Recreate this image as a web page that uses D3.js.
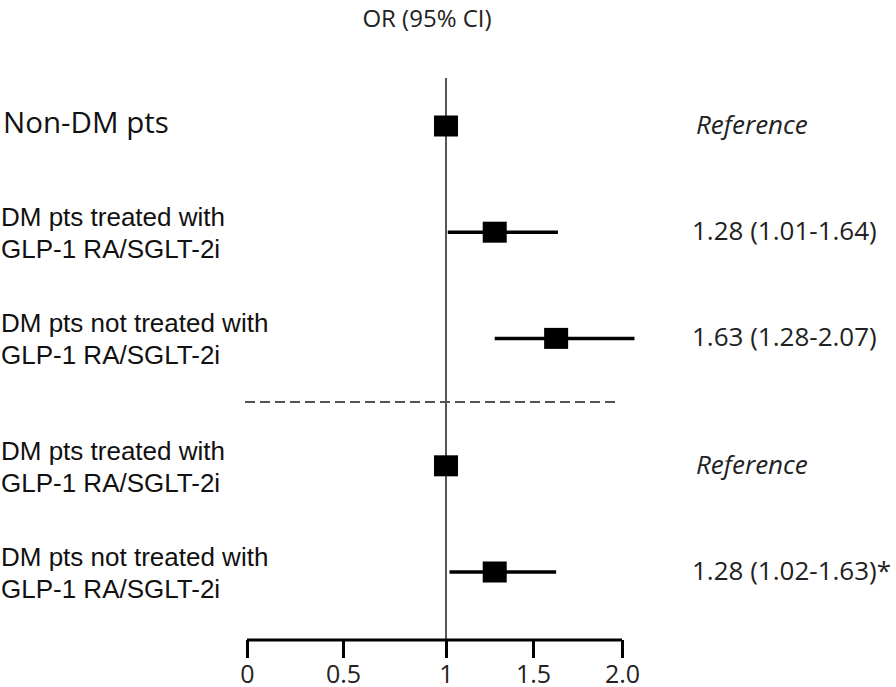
<!DOCTYPE html>
<html>
<head>
<meta charset="utf-8">
<script src="https://cdn.jsdelivr.net/npm/d3@7"></script>
<style>
  html, body { margin: 0; padding: 0; background: #fff; }
  svg { display: block; }
</style>
</head>
<body>
<svg id="chart" width="896" height="687"></svg>
<script>
// ---- data ----
const rowLabels = [
  ["Non-DM pts"],
  ["DM pts treated with", "GLP-1 RA/SGLT-2i"],
  ["DM pts not treated with", "GLP-1 RA/SGLT-2i"],
  ["DM pts treated with", "GLP-1 RA/SGLT-2i"],
  ["DM pts not treated with", "GLP-1 RA/SGLT-2i"]
];
const rowGroup = [1, 1, 1, 2, 2];
const orValues = [1.00, 1.28, 1.63, 1.00, 1.28];
const ciLower  = [null, 1.01, 1.28, null, 1.02];
const ciUpper  = [null, 1.64, 2.07, null, 1.63];
const rightText = ["Reference", "1.28 (1.01-1.64)", "1.63 (1.28-2.07)", "Reference", "1.28 (1.02-1.63)*"];
const rightItalic = [true, false, false, true, false];
const tickValues = [0, 0.5, 1, 1.5, 2];
const tickLabels = ["0", "0.5", "1", "1.5", "2.0"];
const axisTitle = "OR (95% CI)";

// ---- layout ----
const svg = d3.select("#chart");
const x = d3.scaleLinear().domain(tickValues).range([247, 343, 446, 533, 622]);
const groupGap = 0.2;
const slot = (i) => i + (rowGroup[i] === 2 ? groupGap : 0);
const y = d3.scaleLinear().domain([0, 4 + groupGap]).range([126, 572]);
const axisY = 640;

// title
svg.append("text")
  .attr("x", 427).attr("y", 27)
  .attr("text-anchor", "middle")
  .attr("font-family", "Open Sans")
  .attr("font-size", 24)
  .attr("fill", "#222")
  .text(axisTitle);

// vertical reference line at OR = 1
svg.append("line")
  .attr("x1", x(1)).attr("x2", x(1))
  .attr("y1", 78).attr("y2", axisY)
  .attr("stroke", "#555").attr("stroke-width", 2);

// separator dashed line
const sepY = (y(slot(2)) + y(slot(3))) / 2;
svg.append("line")
  .attr("x1", 245).attr("x2", 615)
  .attr("y1", sepY).attr("y2", sepY)
  .attr("stroke", "#555").attr("stroke-width", 2)
  .attr("stroke-dasharray", "10,5");

// axis
const axis = d3.axisBottom(x)
  .tickValues(tickValues)
  .tickFormat((d, i) => tickLabels[i])
  .tickSize(18)
  .tickPadding(7);
const gAxis = svg.append("g")
  .attr("transform", `translate(0,${axisY})`)
  .call(axis);
gAxis.select(".domain")
  .attr("d", `M${x(0)},0H${x(2)}`)
  .attr("stroke", "#000").attr("stroke-width", 3);
gAxis.selectAll(".tick line").attr("stroke", "#000").attr("stroke-width", 3);
gAxis.selectAll(".tick text")
  .attr("font-family", "Open Sans")
  .attr("font-size", 25)
  .attr("fill", "#222");

// CI lines
const rows = orValues.map((v, i) => ({ i, v, lo: ciLower[i], hi: ciUpper[i] }));
svg.selectAll("line.ci")
  .data(rows.filter(d => d.lo !== null))
  .join("line")
  .attr("class", "ci")
  .attr("x1", d => x(d.lo)).attr("x2", d => x(d.hi))
  .attr("y1", d => y(slot(d.i))).attr("y2", d => y(slot(d.i)))
  .attr("stroke", "#000").attr("stroke-width", 3.5);

// squares
const sw = 24, sh = 21;
svg.selectAll("rect.pt")
  .data(rows)
  .join("rect")
  .attr("class", "pt")
  .attr("x", d => x(d.v) - sw / 2)
  .attr("y", d => y(slot(d.i)) - sh / 2)
  .attr("width", sw).attr("height", sh)
  .attr("fill", "#000");

// left labels
rowLabels.forEach((lines, i) => {
  const cy = y(slot(i));
  if (lines.length === 1) {
    svg.append("text")
      .attr("x", 3).attr("y", cy + 7)
      .attr("font-family", "Open Sans")
      .attr("font-size", 29.5)
      .attr("fill", "#111")
      .text(lines[0]);
  } else {
    lines.forEach((t, k) => {
      svg.append("text")
        .attr("x", 1).attr("y", cy - 6 + k * 32)
        .attr("font-family", "Liberation Sans, Arial")
        .attr("font-size", 26)
        .attr("fill", "#111")
        .text(t);
    });
  }
});

// right labels
rightText.forEach((t, i) => {
  svg.append("text")
    .attr("x", rightItalic[i] ? 696 : 692).attr("y", y(slot(i)) + 8)
    .attr("font-family", "Open Sans")
    .attr("font-size", 26)
    .attr("font-style", rightItalic[i] ? "italic" : "normal")
    .attr("fill", "#222")
    .text(t);
});
</script>
</body>
</html>
